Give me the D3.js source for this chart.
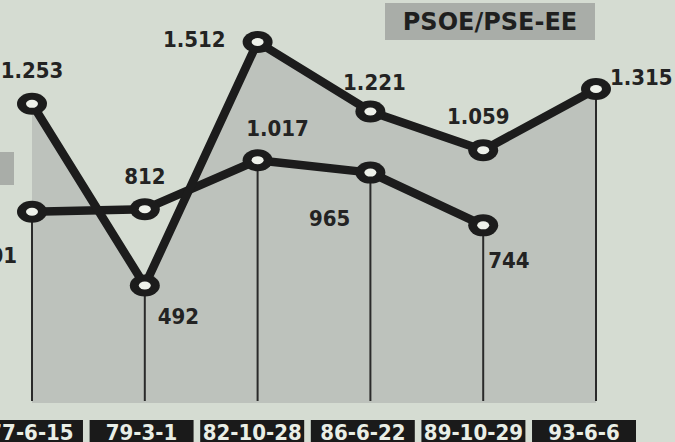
<!DOCTYPE html>
<html>
<head>
<meta charset="utf-8">
<script src="https://cdn.jsdelivr.net/npm/d3@7"></script>
<style>
    body { margin: 0; background: #d5dcd2; }
    svg { display: block; }
    text { font-family: 'DejaVu Sans Condensed', 'DejaVu Sans', sans-serif; font-stretch: condensed; font-weight: bold; }
</style>
</head>
<body>
<svg id="chart"></svg>
<script>
const WIDTH = 675
const HEIGHT = 442

// election dates
const dates = ['77-6-15', '79-3-1', '82-10-28', '86-6-22', '89-10-29', '93-6-6']
// PSOE / PSE-EE (thousands of votes), shaded series
const psoe = [1253, 492, 1512, 1221, 1059, 1315]
// other series, no value for the last election
const other = [801, 812, 1017, 965, 744, null]
const title = 'PSOE/PSE-EE'

// label placement: [dx, dy, anchor]
const psoeLabelPos = [[0, -26, 'middle'], [13, 38, 'start'], [-32, 5, 'end'], [4, -21, 'middle'], [-5, -26, 'middle'], [14, -4, 'start']]
const otherLabelPos = [[-15, 51, 'end'], [0, -25, 'middle'], [20, -24, 'middle'], [-20, 53, 'end'], [5, 43, 'start']]

const fmt = d3.formatLocale({ decimal: ',', thousands: '.', grouping: [3], currency: ['', ''] }).format(',')

const svg = d3.select('#chart')
    .attr('width', WIDTH)
    .attr('height', HEIGHT)

svg.append('rect')
    .attr('width', WIDTH)
    .attr('height', HEIGHT)
    .attr('fill', '#d5dcd2')

const x = d3.scalePoint().domain(dates).range([32, 596])
const y = d3.scaleLinear().domain([0, 1512]).range([403, 42])
const baseY = y(0) - 2

// label boxes along the bottom
const xb = d3.scaleBand().domain(dates).range([-21, 636]).paddingInner(0.06)

// grey patch at left edge (cut-off legend key)
svg.append('rect')
    .attr('x', 0).attr('y', 152)
    .attr('width', 14).attr('height', 33)
    .attr('fill', '#a9ada8')

// shaded area under PSOE
const area = d3.area()
    .x((d, i) => x(dates[i]))
    .y0(y(0))
    .y1(d => y(d))

svg.append('path')
    .datum(psoe)
    .attr('d', area)
    .attr('fill', '#bdc2bc')

// vertical drop lines from the lowest point of each date
svg.append('g')
    .selectAll('line')
    .data(dates)
    .join('line')
    .attr('x1', d => x(d))
    .attr('x2', d => x(d))
    .attr('y1', (d, i) => y(other[i] == null ? psoe[i] : Math.min(psoe[i], other[i])))
    .attr('y2', baseY)
    .attr('stroke', '#2a2a2a')
    .attr('stroke-width', 2)

const line = d3.line()
    .defined(d => d != null)
    .x((d, i) => x(dates[i]))
    .y(d => y(d))

const series = [
    { values: other, pos: otherLabelPos },
    { values: psoe, pos: psoeLabelPos }
]

series.forEach(s => {
    svg.append('path')
        .datum(s.values)
        .attr('d', line)
        .attr('fill', 'none')
        .attr('stroke', '#1c1c1c')
        .attr('stroke-width', 8.5)
        .attr('stroke-linejoin', 'round')
})

series.forEach(s => {
    const pts = s.values.map((v, i) => ({ v, i })).filter(d => d.v != null)
    const g = svg.append('g')
    g.selectAll('ellipse.outer')
        .data(pts)
        .join('ellipse')
        .attr('class', 'outer')
        .attr('cx', d => x(dates[d.i]))
        .attr('cy', d => y(d.v))
        .attr('rx', 15)
        .attr('ry', 11)
        .attr('fill', '#1c1c1c')
    g.selectAll('ellipse.inner')
        .data(pts)
        .join('ellipse')
        .attr('class', 'inner')
        .attr('cx', d => x(dates[d.i]))
        .attr('cy', d => y(d.v))
        .attr('rx', 6)
        .attr('ry', 4)
        .attr('fill', '#eef1ea')
    g.selectAll('text')
        .data(pts)
        .join('text')
        .attr('x', d => x(dates[d.i]) + s.pos[d.i][0])
        .attr('y', d => y(d.v) + s.pos[d.i][1])
        .attr('text-anchor', d => s.pos[d.i][2])
        .attr('font-size', 22)
        .attr('fill', '#232323')
        .text(d => fmt(d.v))
})

// date labels
const lab = svg.append('g')
lab.selectAll('rect')
    .data(dates)
    .join('rect')
    .attr('x', d => xb(d))
    .attr('y', 420)
    .attr('width', xb.bandwidth())
    .attr('height', 26)
    .attr('fill', '#1a1a1a')
lab.selectAll('text')
    .data(dates)
    .join('text')
    .attr('x', d => xb(d) + xb.bandwidth() / 2)
    .attr('y', 440)
    .attr('text-anchor', 'middle')
    .attr('font-size', 22)
    .attr('fill', '#e9eee6')
    .text(d => d)

// title box
svg.append('rect')
    .attr('x', 385).attr('y', 3)
    .attr('width', 210).attr('height', 37)
    .attr('fill', '#a9ada8')
svg.append('text')
    .attr('x', 490)
    .attr('y', 30)
    .attr('text-anchor', 'middle')
    .attr('font-size', 24)
    .style('font-stretch', 'normal')
    .style('font-family', "'DejaVu Sans', sans-serif")
    .attr('fill', '#1f1f1f')
    .text(title)
</script>
</body>
</html>
